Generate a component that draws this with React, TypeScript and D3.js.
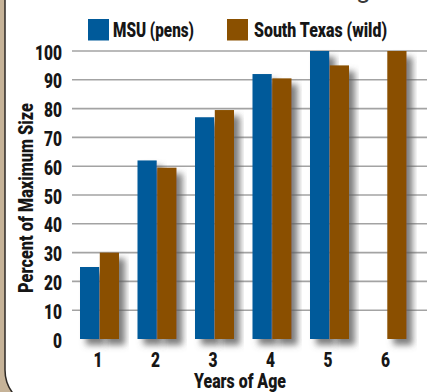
import React from "react";
import * as d3 from "d3";

// Growth in body size by age, as percent of maximum size
const ages = ["1", "2", "3", "4", "5", "6"];
const msuPens: (number | null)[] = [25, 62, 77, 92, 100, null];
const southTexasWild: (number | null)[] = [30, 59.5, 79.5, 90.5, 95, 100];
const yTicks = [0, 10, 20, 30, 40, 50, 60, 70, 80, 90, 100];
const seriesNames = ["MSU (pens)", "South Texas (wild)"];
const seriesColors = ["#005a9a", "#8a5000"];

const W = 430;
const H = 392;
const FONT = "Roboto, 'Noto Sans', sans-serif";
const DIGIT_W = 9;

// Condensed-looking text: heavy Roboto squeezed to a given advance width
function Narrow(props: {
  x: number;
  y: number;
  size: number;
  width: number;
  anchor?: "start" | "middle" | "end";
  transform?: string;
  children: React.ReactNode;
}) {
  const { x, y, size, width, anchor = "start", transform, children } = props;
  return (
    <text
      x={x}
      y={y}
      transform={transform}
      textAnchor={anchor}
      fontSize={size}
      fontWeight={900}
      fill="#161616"
      textLength={width}
      lengthAdjust="spacingAndGlyphs"
    >
      {children}
    </text>
  );
}

export default function App() {
  const y = d3.scaleLinear().domain([0, 100]).range([339, 51]);
  const x = d3.scaleBand<string>().domain(ages).range([70.75, 415.75]).padding(0);
  const inner = d3.scaleBand<number>().domain([0, 1]).range([-19.5, 19.5]).paddingInner(0.03);
  const series = [msuPens, southTexasWild];
  const cx = (a: string) => (x(a) as number) + x.bandwidth() / 2;

  return (
    <svg
      width={W}
      height={H}
      viewBox={`0 0 ${W} ${H}`}
      style={{ position: "absolute", left: 0, top: 0, display: "block" }}
      fontFamily={FONT}
    >
      <defs>
        <filter id="barShadow" x="-50%" y="-10%" width="200%" height="130%">
          <feDropShadow dx="6" dy="6" stdDeviation="3.2" floodColor="#5e5e5e" floodOpacity="0.8" />
        </filter>
      </defs>

      {/* backdrop and panel */}
      <rect x={0} y={0} width={W} height={H} fill="#c6b398" />
      <rect x={5} y={-60} width={W + 60} height={468} rx={38} ry={38} fill="#ffffff" stroke="#2e2a26" strokeWidth={1.5} />

      {/* title fragment from the panel above */}
      <text x={356} y={-2} fontSize={26} fill="#3a3a3a">g</text>

      {/* gridlines */}
      {yTicks.filter((t) => t > 0).map((t) => (
        <line key={t} x1={72} x2={427} y1={y(t)} y2={y(t)} stroke="#a3a3a3" strokeWidth={1.6} />
      ))}

      {/* y tick labels */}
      {yTicks.map((t) => (
        <Narrow key={t} x={62} y={y(t) + 8.5} size={21} width={String(t).length * DIGIT_W} anchor="end">
          {t}
        </Narrow>
      ))}

      {/* bars */}
      {ages.map((a, i) => (
        <g key={a} transform={`translate(${cx(a)},0)`}>
          {series.map((s, j) => {
            const v = s[i];
            if (v == null) return null;
            return (
              <rect
                key={j}
                x={inner(j) as number}
                y={y(v)}
                width={inner.bandwidth()}
                height={y(0) - y(v)}
                fill={seriesColors[j]}
                filter="url(#barShadow)"
              />
            );
          })}
        </g>
      ))}

      {/* x tick labels */}
      {ages.map((a) => (
        <Narrow key={a} x={cx(a) - 1.5} y={366.5} size={21} width={DIGIT_W} anchor="middle">
          {a}
        </Narrow>
      ))}

      {/* axis titles */}
      <Narrow x={240} y={387.5} size={21} width={92} anchor="middle">
        Years of Age
      </Narrow>
      <Narrow x={0} y={0} size={20.5} width={190} anchor="middle" transform="translate(33,198) rotate(-90)">
        Percent of Maximum Size
      </Narrow>

      {/* legend */}
      <rect x={88} y={19} width={21} height={21.5} fill={seriesColors[0]} />
      <Narrow x={113} y={37.3} size={20.5} width={81}>{seriesNames[0]}</Narrow>
      <rect x={227} y={19} width={21} height={21.5} fill={seriesColors[1]} />
      <Narrow x={254} y={37.3} size={20.5} width={133}>{seriesNames[1]}</Narrow>
    </svg>
  );
}
